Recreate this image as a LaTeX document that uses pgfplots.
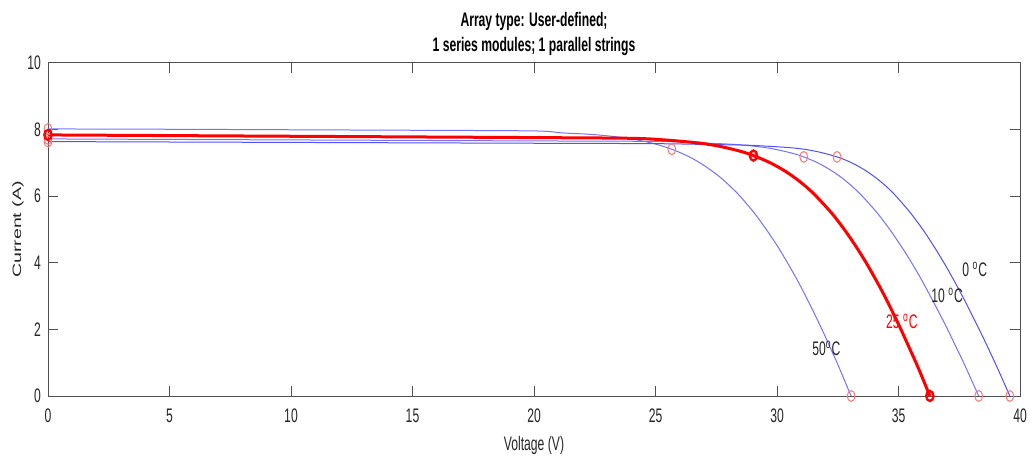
\documentclass[border=0pt]{standalone}
\usepackage{fontspec}
\setmainfont{Liberation Sans}[FakeStretch=0.62]
\newfontfamily\plainfont{Liberation Sans}
\usepackage{pgfplots}
\usepackage{pgfplotstable}
\pgfplotsset{compat=1.18}
\definecolor{txt}{RGB}{38,38,38}
\definecolor{axc}{RGB}{80,80,80}
\definecolor{bl}{RGB}{115,115,255}
\definecolor{bldark}{RGB}{80,80,255}
\definecolor{lred}{RGB}{250,120,120}
\newcommand{\LabFont}{\fontsize{9.8}{11}\selectfont}

% I-V curves, V I
\pgfplotstableread{
V I
0 8.02
5 8.01
10 7.995
15 7.98
20 7.96
21.18 7.90
22.46 7.85
23.75 7.75
24.82 7.60
25.67 7.41
26.34 7.20
26.83 7.00
27.34 6.75
27.77 6.50
28.14 6.25
28.48 6.00
29.06 5.50
29.56 5.00
30.02 4.50
30.43 4.00
30.82 3.50
31.18 3.00
31.52 2.50
31.85 2.00
32.16 1.50
32.47 1.00
32.76 0.50
33.05 0
}\tfifty
\pgfplotstableread{
V I
0 7.84
5 7.82
10 7.80
15 7.78
20 7.76
23.85 7.74
25.18 7.70
26.75 7.60
27.62 7.50
28.49 7.35
29.03 7.22
29.73 7.00
30.34 6.75
30.83 6.50
31.25 6.25
31.61 6.00
32.24 5.50
32.77 5.00
33.24 4.50
33.67 4.00
34.06 3.50
34.43 3.00
34.77 2.50
35.10 2.00
35.41 1.50
35.72 1.00
36.01 0.50
36.29 0
}\ttwentyfive
\pgfplotstableread{
V I
0 7.72
5 7.705
10 7.69
15 7.675
20 7.66
25 7.645
26.86 7.60
28.35 7.55
29.61 7.45
30.58 7.30
31.10 7.18
31.68 7.00
32.28 6.75
32.76 6.50
33.16 6.25
33.51 6.00
34.12 5.50
34.64 5.00
35.11 4.50
35.54 4.00
35.94 3.50
36.31 3.00
36.67 2.50
37.02 2.00
37.35 1.50
37.68 1.00
37.99 0.50
38.30 0
}\tten
\pgfplotstableread{
V I
0 7.64
5 7.6275
10 7.615
15 7.6025
20 7.59
25 7.5775
27.32 7.55
28.84 7.53
30.65 7.45
31.58 7.35
32.47 7.18
33.08 7.00
33.69 6.75
34.16 6.50
34.56 6.25
34.90 6.00
35.49 5.50
36.00 5.00
36.45 4.50
36.87 4.00
37.26 3.50
37.63 3.00
37.98 2.50
38.32 2.00
38.65 1.50
38.97 1.00
39.28 0.50
39.58 0
}\tzero

\begin{document}
\begin{tikzpicture}
\useasboundingbox (-24pt,-32pt) rectangle (492pt,198pt);
\begin{axis}[
    at={(0,0)}, anchor=south west,
    scale only axis,
    width=486pt, height=166.5pt,
    xmin=0, xmax=40, ymin=0, ymax=10,
    xtick={0,5,...,40}, ytick={0,2,...,10},
    tick align=inside,
    major tick length=5pt,
    axis line style={draw=axc, line width=0.5pt},
    tick style={draw=axc, line width=0.5pt},
    ticklabel style={font=\LabFont, text=txt},
    xticklabel style={yshift=-3pt},
    /pgf/number format/assume math mode=true,
    title={Array type: User-defined;\\1 series modules; 1 parallel strings},
    title style={font=\bfseries\fontsize{9.8}{12.5}\selectfont, align=center,
        at={(axis description cs:0.5,1)}, anchor=south, yshift=-6pt, text=black},
    xlabel={Voltage (V)},
    xlabel style={font=\LabFont, text=txt, at={(axis description cs:0.5,0)},
        anchor=center, yshift=-24.5pt},
    ylabel={\plainfont\fontsize{9.8}{11}\selectfont\scalebox{1}[0.62]{Current (A)}},
    ylabel style={text=txt, at={(axis description cs:0,0.5)},
        anchor=center, yshift=15pt},
    clip=false,
]
\addplot[bl, line width=0.5pt, smooth] table[x=V,y=I] {\tfifty};
\addplot[bl, line width=0.5pt, smooth] table[x=V,y=I] {\tten};
\addplot[bldark, line width=0.5pt, smooth] table[x=V,y=I] {\tzero};
\addplot[red, line width=1.5pt, smooth] table[x=V,y=I] {\ttwentyfive};

% short-circuit, maximum-power and open-circuit points
\addplot[only marks, mark=o, mark size=2.7pt,
    mark options={xscale=0.72, draw=lred, line width=0.5pt}] coordinates {
    (0,8.02) (0,7.72) (0,7.64)
    (25.67,7.41) (31.10,7.18) (32.47,7.18)
    (33.05,0) (38.30,0) (39.58,0)
};
\addplot[only marks, mark=o, mark size=2.5pt,
    mark options={xscale=0.72, draw=red, line width=1.2pt}] coordinates {
    (0,7.84) (29.03,7.22) (36.29,0)
};

\node[font=\LabFont, text=txt] at (axis cs:38.14,3.80) {0 \textsuperscript{o}C};
\node[font=\LabFont, text=txt] at (axis cs:37.00,3.03) {10 \textsuperscript{o}C};
\node[font=\LabFont, text=red] at (axis cs:35.14,2.25) {25 \textsuperscript{o}C};
\node[font=\LabFont, text=txt] at (axis cs:32.03,1.43) {50\textsuperscript{o}C};
\end{axis}
\end{tikzpicture}
\end{document}
